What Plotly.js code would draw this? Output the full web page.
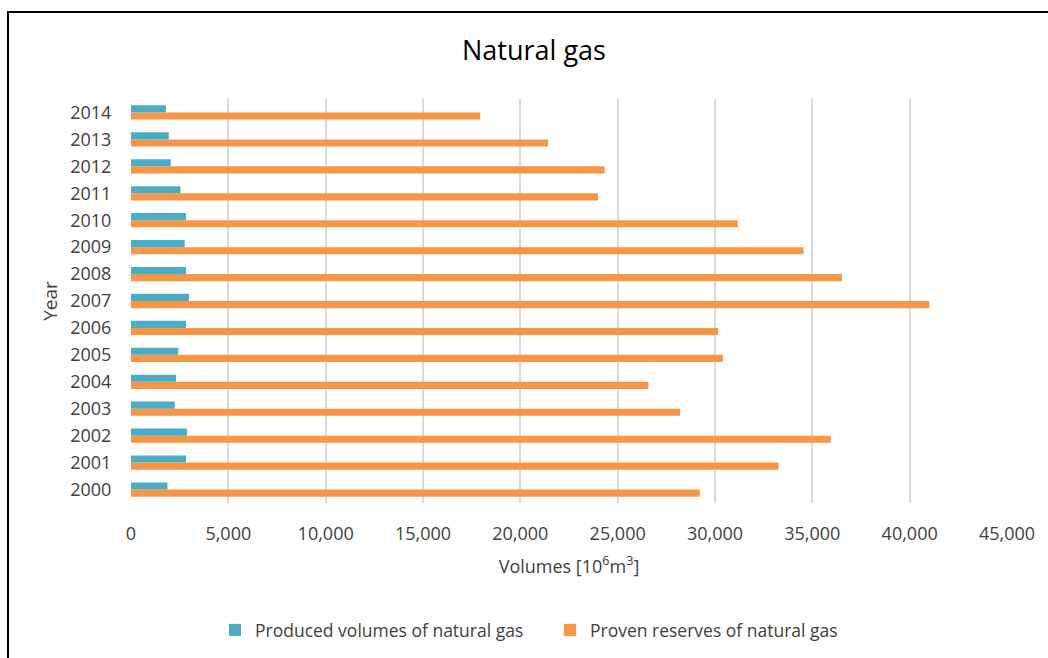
<!DOCTYPE html>
<html>
<head>
<meta charset="utf-8">
<script src="https://cdn.plot.ly/plotly-3.0.1.min.js"></script>
<style>
  html, body { margin: 0; padding: 0; background: #fff; overflow: hidden; }
  #chart { position: absolute; left: 0; top: 0; width: 1048px; height: 658px; }
  #frame { position: absolute; left: 7px; top: 11px; width: 1100px; height: 700px;
           border: 2px solid #000; pointer-events: none; box-sizing: border-box; }
</style>
</head>
<body>
<div id="chart"></div>
<div id="frame"></div>
<script>
const years = ["2000","2001","2002","2003","2004","2005","2006","2007","2008","2009","2010","2011","2012","2013","2014"];
const producedVolumes = [1870, 2830, 2880, 2250, 2310, 2430, 2830, 2980, 2830, 2760, 2830, 2540, 2040, 1940, 1800];
const provenReserves = [29220, 33260, 35950, 28210, 26580, 30400, 30160, 41010, 36520, 34550, 31170, 23990, 24330, 21420, 17940];
const xTickValues = [0, 5000, 10000, 15000, 20000, 25000, 30000, 35000, 40000, 45000];
const xTickLabels = ["0", "5,000", "10,000", "15,000", "20,000", "25,000", "30,000", "35,000", "40,000", "45,000"];

const font = "'Open Sans', 'Liberation Sans', sans-serif";
const textColor = "#404040";

const data = [
  {
    type: "bar", orientation: "h",
    name: "Proven reserves of natural gas",
    y: years, x: provenReserves,
    marker: { color: "#F79646" },
    legendrank: 2,
    hoverinfo: "x+y"
  },
  {
    type: "bar", orientation: "h",
    name: "Produced volumes of natural gas",
    y: years, x: producedVolumes,
    marker: { color: "#4BACC6" },
    legendrank: 1,
    hoverinfo: "x+y"
  }
];

const layout = {
  width: 1048, height: 658,
  margin: { l: 131, r: 41, t: 99, b: 155 },
  paper_bgcolor: "rgba(0,0,0,0)",
  plot_bgcolor: "#fff",
  font: { family: font, color: textColor, size: 18 },
  barmode: "group",
  bargap: 0.47,
  bargroupgap: 0,
  title: {
    text: "Natural gas",
    font: { family: font, size: 27, color: "#000" },
    x: 534/1048, xref: "container", xanchor: "center",
    y: 1 - 51/658, yref: "container", yanchor: "middle"
  },
  xaxis: {
    range: [0, 45000],
    tickvals: xTickValues,
    ticktext: xTickLabels,
    showgrid: true, gridcolor: "#d9d9d9", gridwidth: 2,
    zeroline: false,
    showline: false,
    ticks: "outside", ticklen: 14, tickcolor: "rgba(0,0,0,0)",
    tickfont: { family: font, size: 18, color: textColor },
    title: { text: "Volumes [10<sup>6</sup>m<sup>3</sup>]", font: { family: font, size: 18, color: textColor }, standoff: 16 },
    fixedrange: true
  },
  yaxis: {
    type: "category",
    categoryorder: "array", categoryarray: years,
    range: [-0.5, 14.5],
    showgrid: false,
    showline: false,
    ticks: "outside", ticklen: 15, tickcolor: "rgba(0,0,0,0)",
    tickfont: { family: font, size: 18, color: textColor },
    title: { text: "Year", font: { family: font, size: 19, color: textColor }, standoff: 7 },
    fixedrange: true
  },
  showlegend: true,
  legend: {
    orientation: "h",
    x: 215/1048, xref: "container", xanchor: "left",
    y: 1 - 630/658, yref: "container", yanchor: "middle",
    font: { family: font, size: 17.5, color: textColor },
    entrywidth: 290, entrywidthmode: "pixels",
    itemwidth: 30,
    traceorder: "normal"
  }
};

Plotly.newPlot("chart", data, layout, { displayModeBar: false, staticPlot: true });
</script>
</body>
</html>
